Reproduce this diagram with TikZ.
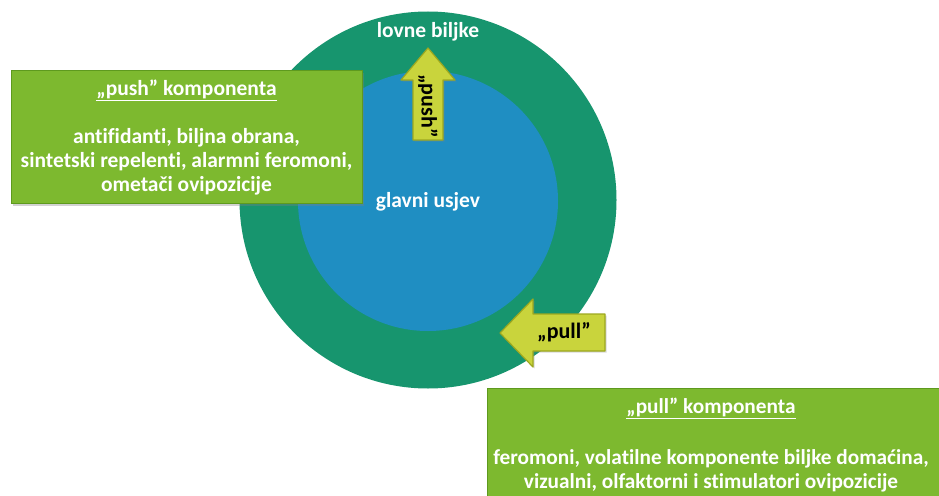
\documentclass[tikz,border=0pt]{standalone}
\usepackage{fontspec}
\setmainfont{Carlito}[Ligatures={NoCommon}]
\usetikzlibrary{shadows}
\definecolor{ring}{HTML}{17956E}
\definecolor{core}{HTML}{1F8EC2}
\definecolor{boxg}{HTML}{7DB92F}
\definecolor{boxd}{HTML}{5E9A1E}
\definecolor{arrf}{HTML}{C9D43C}
\definecolor{arrd}{HTML}{9DA81F}
\tikzset{
  compbox/.style={rectangle, fill=boxg, draw=boxd, line width=0.8pt, inner sep=0pt,
    drop shadow={opacity=0.35, shadow xshift=2pt, shadow yshift=-3pt}},
  comptext/.style={text=white, align=center, inner sep=0pt},
  bigarrow/.style={fill=arrf, draw=arrd, line width=1.2pt, line join=round,
    drop shadow={opacity=0.3, shadow xshift=1.5pt, shadow yshift=-1.5pt}},
  arrtext/.style={text=black, font=\bfseries\fontsize{22}{24}\selectfont, inner sep=0pt},
  circtext/.style={text=white, font=\bfseries\fontsize{21.5}{24}\selectfont, inner sep=0pt}
}
\begin{document}
\begin{tikzpicture}[x=1pt,y=-1pt]
\useasboundingbox (0,0) rectangle (939,495);
\clip (0,0) rectangle (939,495);
\fill[white] (0,0) rectangle (939,495);
% circles
\node[circle, fill=ring, minimum size=377pt, inner sep=0pt] (outer) at (428,200) {};
\node[circle, fill=core, minimum size=260pt, inner sep=0pt] (inner) at (428,201) {};
\node[circtext] (lovne) at (428,32) {lovne biljke};
\node[circtext] (glavni) at (428,202) {glavni usjev};
% push box
\node[compbox, minimum width=351pt, minimum height=133pt] (pushbox) at (186.5,136.5) {};
\node[comptext, font=\bfseries\fontsize{21.5}{24}\selectfont] (pushtxt) at (186.5,137) {\underline{„push” komponenta}\\[24pt]antifidanti, biljna obrana,\\sintetski repelenti, alarmni feromoni,\\ometači ovipozicije};
% pull box
\node[compbox, minimum width=460pt, minimum height=116pt] (pullbox) at (717,446) {};
\node[comptext, font=\bfseries\fontsize{21.3}{23.5}\selectfont] (pulltxt) at (711,445) {\underline{„pull” komponenta}\\[28pt]feromoni, volatilne komponente biljke domaćina,\\vizualni, olfaktorni i stimulatori ovipozicije};
% push arrow
\draw[bigarrow] (413,140) -- (413,80) -- (401,80) -- (428,48) -- (455,80) -- (443,80) -- (443,140) -- cycle;
\node[arrtext, rotate=-90] (pushlbl) at (428,106) {„push”};
% pull arrow
\draw[bigarrow] (605,314) -- (533,314) -- (533,299) -- (500,333) -- (533,367) -- (533,351) -- (605,351) -- cycle;
\node[arrtext] (pulllbl) at (564,332) {„pull”};
\end{tikzpicture}
\end{document}
